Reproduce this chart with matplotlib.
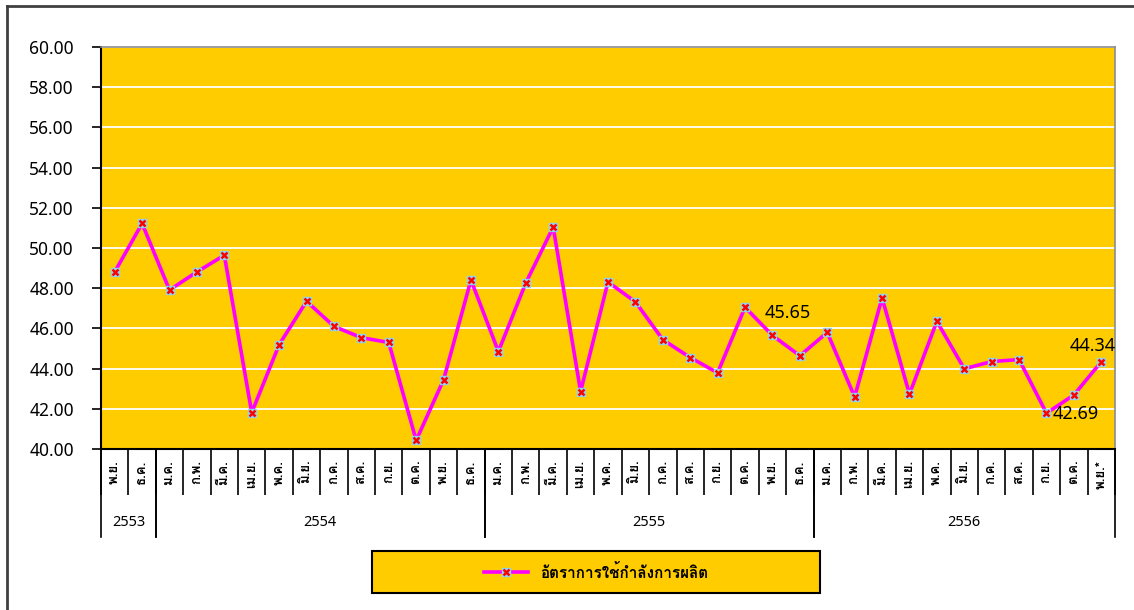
import matplotlib
matplotlib.use("Agg")
from matplotlib import pyplot as plt
from matplotlib import font_manager
from matplotlib.ft2font import FT2Font
from matplotlib.lines import Line2D
from matplotlib.patches import Rectangle
import matplotlib.transforms as mtransforms

# data
months = ['พ.ย.', 'ธ.ค.',
          'ม.ค.', 'ก.พ.', 'มี.ค.', 'เม.ย.', 'พ.ค.', 'มิ.ย.', 'ก.ค.', 'ส.ค.', 'ก.ย.', 'ต.ค.', 'พ.ย.', 'ธ.ค.',
          'ม.ค.', 'ก.พ.', 'มี.ค.', 'เม.ย.', 'พ.ค.', 'มิ.ย.', 'ก.ค.', 'ส.ค.', 'ก.ย.', 'ต.ค.', 'พ.ย.', 'ธ.ค.',
          'ม.ค.', 'ก.พ.', 'มี.ค.', 'เม.ย.', 'พ.ค.', 'มิ.ย.', 'ก.ค.', 'ส.ค.', 'ก.ย.', 'ต.ค.', 'พ.ย.*']
years = ['2553', '2554', '2555', '2556']
months_per_year = [2, 12, 12, 11]
values = [48.81, 51.22, 47.91, 48.81, 49.64, 41.81, 45.19, 47.35, 46.10, 45.54,
          45.30, 40.43, 43.44, 48.41, 44.85, 48.26, 51.04, 42.86, 48.31, 47.32,
          45.44, 44.55, 43.79, 47.05, 45.65, 44.64, 45.80, 42.59, 47.52, 42.73,
          46.35, 43.99, 44.35, 44.45, 41.78, 42.69, 44.34]
series_name = 'อัตราการใช้กำลังการผลิต'
labeled = {24: (11, 16), 35: (1, -14), 36: (-6, 11)}

# pick a font that can draw Thai (Loma if it is there)
thai_font = 'DejaVu Sans'
for f in font_manager.fontManager.ttflist:
    try:
        if 0x0E01 in FT2Font(f.fname).get_charmap():
            thai_font = f.name
            if f.name == 'Loma':
                break
    except Exception:
        pass

num_font = 'Noto Sans'
yellow = '#FFCC00'

fig = plt.figure(figsize=(11.34, 6.10), dpi=100)
ax = fig.add_axes([101 / 1134, 1 - 449 / 610, 1014 / 1134, 402 / 610])
ax.set_facecolor(yellow)

x = list(range(len(values)))
ax.plot(x, values, color='#FF00FF', lw=2.6, marker='s', ms=5.5,
        mfc='#8FD3F0', mec='#8FD3F0', zorder=3)
ax.plot(x, values, ls='none', marker='x', ms=4.5, mew=1.8, color='red', zorder=4)

for i, (dx, dy) in labeled.items():
    ax.annotate(f'{values[i]:.2f}', (i, values[i]), xytext=(dx, dy),
                textcoords='offset points', ha='center', va='center',
                fontsize=13, family=num_font, color='black', zorder=5)

ax.set_xlim(-0.5, len(values) - 0.5)
ax.set_ylim(40, 60)
ax.set_yticks(range(40, 61, 2))
ax.set_yticklabels([f'{v:.2f}' for v in range(40, 61, 2)], family=num_font, fontsize=12.5)
ax.tick_params(axis='y', length=6.5, width=1.2, pad=13, colors='black')
ax.grid(axis='y', color='white', lw=1.3)
ax.set_axisbelow(True)

# category separators
ax.set_xticks([k - 0.5 for k in range(len(values) + 1)])
ax.set_xticklabels([])
ax.tick_params(axis='x', length=33, width=1.2, direction='out', colors='black')

for s in ['top', 'right']:
    ax.spines[s].set_color('#8C8C8C')
    ax.spines[s].set_linewidth(1.2)
for s in ['left', 'bottom']:
    ax.spines[s].set_color('black')
    ax.spines[s].set_linewidth(1.5)

trans = mtransforms.blended_transform_factory(ax.transData, ax.transAxes)
for i, m in enumerate(months):
    ax.text(i, -0.027, m, transform=trans, rotation=90, ha='center', va='top',
            fontsize=9.5, family=thai_font, fontweight='bold')

start = -0.5
for yr, n in zip(years, months_per_year):
    end = start + n
    ax.text((start + end) / 2, -0.182, yr, transform=trans, ha='center', va='center',
            fontsize=10.5, family=num_font)
    for b in (start, end):
        ax.plot([b, b], [0, -0.219], transform=trans, color='black', lw=1.2,
                clip_on=False)
    start = end

# legend box
fig.patches.append(Rectangle((372 / 1134, 1 - 593 / 610), 448 / 1134, 42 / 610,
                             transform=fig.transFigure, facecolor=yellow,
                             edgecolor='black', lw=1.5))
h_line = Line2D([], [], color='#FF00FF', lw=2.6, marker='s', ms=5.5,
                mfc='#8FD3F0', mec='#8FD3F0')
h_x = Line2D([], [], ls='none', marker='x', ms=4.5, mew=1.8, color='red')
fig.legend([(h_line, h_x)], [series_name], loc='center',
           bbox_to_anchor=(596 / 1134, 1 - 572 / 610), frameon=False,
           handlelength=2.9, prop={'family': thai_font, 'size': 11, 'weight': 'bold'})

# outer frame
fig.lines.append(Line2D([7 / 1134, 1], [1 - 5.5 / 610, 1 - 5.5 / 610],
                        transform=fig.transFigure, color='#404040', lw=2))
fig.lines.append(Line2D([7 / 1134, 7 / 1134], [0, 1 - 5.5 / 610],
                        transform=fig.transFigure, color='#404040', lw=2))

fig.savefig('out.png', dpi=100)
